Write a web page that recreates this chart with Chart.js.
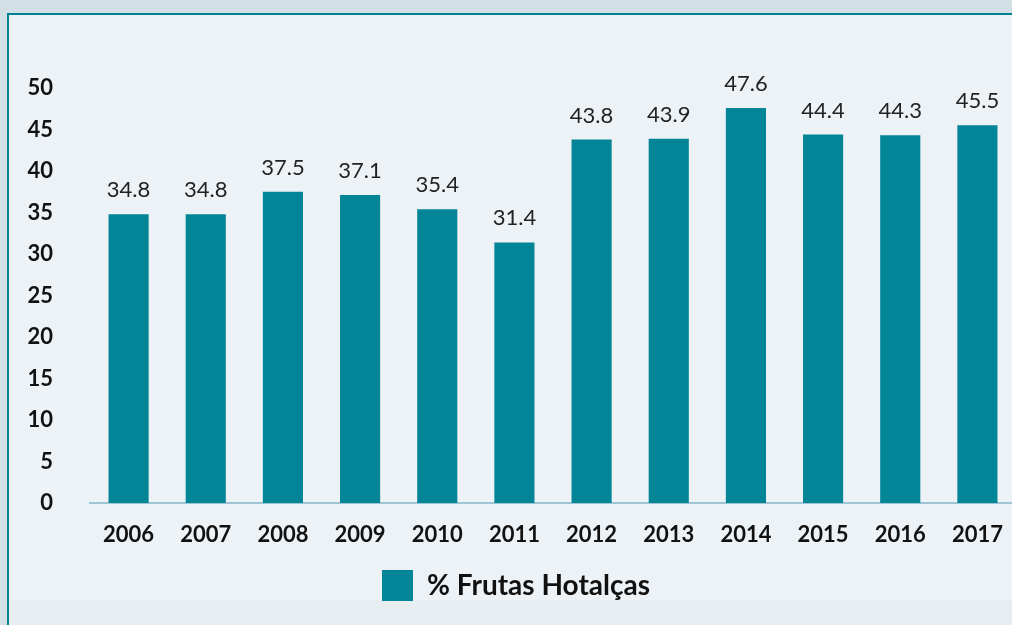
<!DOCTYPE html>
<html><head><meta charset="utf-8">
<script src="https://cdn.jsdelivr.net/npm/chart.js@4.4.0/dist/chart.umd.min.js"></script>
<style>
html,body{margin:0;padding:0;width:1012px;height:625px;overflow:hidden;background:#d2e0e6;}
#panel{position:absolute;left:7px;top:13px;width:1100px;height:700px;background:#edf2f6;border-left:2px solid #00838f;border-top:2px solid #00838f;}
#strip{position:absolute;left:9px;top:600px;width:1100px;height:30px;background:#e6eef1;}
canvas{position:absolute;left:0;top:0;}
</style></head>
<body>
<div id="panel"></div><div id="strip"></div>
<canvas id="c" width="1030" height="625"></canvas>
<script>
const years = ['2006','2007','2008','2009','2010','2011','2012','2013','2014','2015','2016','2017'];
const frutasHortalicas = [34.8,34.8,37.5,37.1,35.4,31.4,43.8,43.9,47.6,44.4,44.3,45.5];
const seriesLabel = '% Frutas Hotalças';

const FONT = 'Lato, "Open Sans", sans-serif';
const valueLabels = {
  id:'valueLabels',
  afterDatasetsDraw(chart){
    const ctx = chart.ctx;
    const meta = chart.getDatasetMeta(0);
    ctx.save();
    ctx.font = '22px ' + FONT;
    ctx.fillStyle = '#222';
    ctx.textAlign = 'center';
    ctx.textBaseline = 'bottom';
    meta.data.forEach((bar,i)=>{
      ctx.fillText(frutasHortalicas[i].toFixed(1), bar.x, bar.y - 13);
    });
    ctx.restore();
  }
};

new Chart(document.getElementById('c'),{
  type:'bar',
  data:{labels:years,datasets:[{label:seriesLabel,data:frutasHortalicas,backgroundColor:'#018597',borderWidth:0,barPercentage:0.52,categoryPercentage:1}]},
  options:{
    responsive:false,animation:false,
    layout:{padding:{left:16,right:14,top:88,bottom:14}},
    plugins:{
      tooltip:{enabled:false},
      legend:{position:'bottom',labels:{boxWidth:31,boxHeight:31,padding:7,color:'#111',font:{family:FONT,size:28,weight:'bold'}}}
    },
    scales:{
      x:{grid:{display:false,drawTicks:false},border:{display:true,color:'#9fc4d3',width:2},
         ticks:{color:'#111',padding:19,font:{family:FONT,size:22,weight:'bold'}},
         afterFit(s){s.height=60;}},
      y:{min:0,max:50,grid:{display:false,drawTicks:false},border:{display:false},
         ticks:{stepSize:5,color:'#111',padding:37,font:{family:FONT,size:22,weight:'bold'}},
         afterFit(s){s.width=74;}}
    }
  },
  plugins:[valueLabels]
});
</script>
</body></html>
